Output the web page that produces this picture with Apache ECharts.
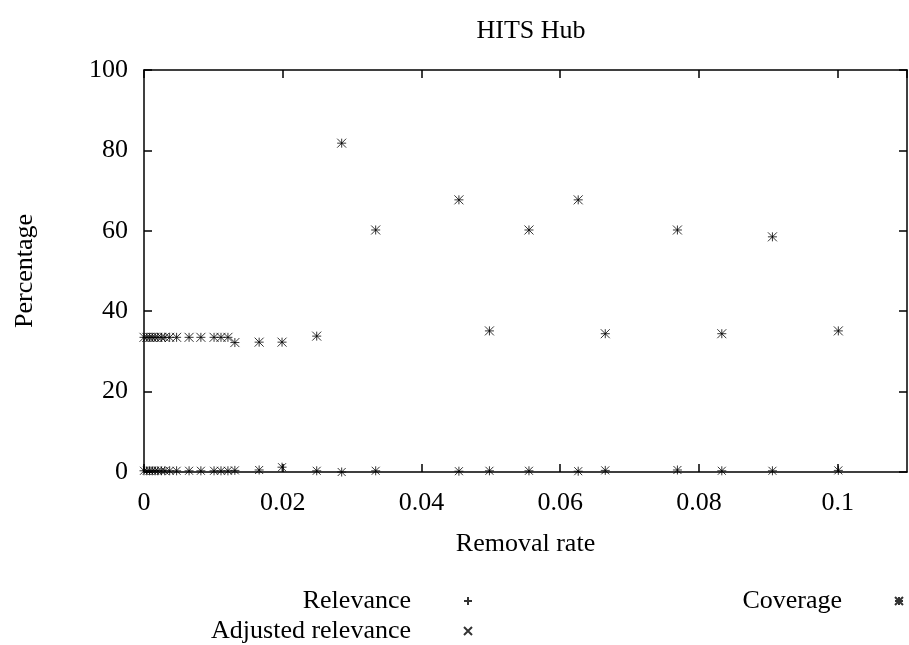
<!DOCTYPE html>
<html>
<head>
<meta charset="utf-8">
<script src="https://cdn.jsdelivr.net/npm/echarts@6/dist/echarts.min.js"></script>
<style>
  html, body { margin: 0; padding: 0; background: #fff; }
  #main { width: 909px; height: 645px; }
</style>
</head>
<body>
<div id="main"></div>
<script>
// removal rate (x) for every measurement
var removalRate = [0, 0.0004, 0.0008, 0.0012, 0.0016, 0.002, 0.0025, 0.003, 0.0037, 0.0047,
    0.0065, 0.0082, 0.0101, 0.0111, 0.0121, 0.0131, 0.0166, 0.0199, 0.0249, 0.0285,
    0.0334, 0.0454, 0.0498, 0.0555, 0.0626, 0.0665, 0.0769, 0.0833, 0.0906, 0.1001];
var relevance = [0.3, 0.3, 0.3, 0.3, 0.3, 0.3, 0.3, 0.3, 0.3, 0.3,
    0.3, 0.3, 0.3, 0.3, 0.3, 0.4, 0.5, 1.2, 0.3, 0,
    0.3, 0.2, 0.3, 0.3, 0.2, 0.4, 0.5, 0.3, 0.3, 0.4];
var adjRelevance = [0.3, 0.3, 0.3, 0.3, 0.3, 0.3, 0.3, 0.3, 0.3, 0.3,
    0.3, 0.3, 0.3, 0.3, 0.3, 0.4, 0.5, 1.2, 0.3, 0,
    0.3, 0.2, 0.3, 0.3, 0.2, 0.4, 0.5, 0.3, 0.3, 0.4];
var coverage = [33.5, 33.5, 33.5, 33.5, 33.5, 33.5, 33.5, 33.5, 33.5, 33.5,
    33.5, 33.5, 33.5, 33.5, 33.5, 32.2, 32.3, 32.3, 33.8, 81.8,
    60.2, 67.7, 35.1, 60.2, 67.7, 34.4, 60.2, 34.4, 58.5, 35.1];
var yTicks = [0, 20, 40, 60, 80, 100];

function pairs(ys) {
    let out = [];
    for (let i = 0; i < removalRate.length; i++) {
        out.push([removalRate[i], ys[i]]);
    }
    return out;
}

var FONT = 'Liberation Serif';
var plus = 'path://M0,5L10,5M5,0L5,10';
var cross = 'path://M0,0L10,10M0,10L10,0';
var star = 'path://M0,5L10,5M5,0L5,10M0,0L10,10M0,10L10,0';

var markStyle = {color: 'rgba(0,0,0,0)', borderColor: '#000', borderWidth: 1};
var axisLine = {onZero: false, lineStyle: {color: '#000', width: 1.5}};
var tick = {inside: true, length: 8, lineStyle: {color: '#000', width: 1.5}};

function legendAt(name, right, top) {
    return {
        data: [name],
        right: right,
        top: top,
        padding: 0,
        align: 'right',
        orient: 'vertical',
        itemWidth: 8,
        itemHeight: 8,
        selectedMode: false,
        textStyle: {fontFamily: FONT, fontSize: 26, color: '#000', padding: [0, 48, 0, 0]}
    };
}

var chart = echarts.init(document.getElementById('main'));
chart.setOption({
    animation: false,
    title: {
        text: 'HITS Hub',
        left: 526,
        textAlign: 'center',
        top: 13,
        textStyle: {fontFamily: FONT, fontSize: 26, fontWeight: 'normal', color: '#000'}
    },
    legend: [
        legendAt('Relevance', 436, 588),
        legendAt('Adjusted relevance', 436, 618),
        legendAt('Coverage', 5, 588)
    ],
    grid: {left: 144, right: 2, top: 70, bottom: 173},
    xAxis: [
        {
            type: 'value', min: 0, max: 0.11, interval: 0.02,
            name: 'Removal rate', nameLocation: 'middle', nameGap: 59, nameMoveOverlap: false,
            nameTextStyle: {fontFamily: FONT, fontSize: 26, color: '#000'},
            axisLine: axisLine, axisTick: tick, splitLine: {show: false},
            axisLabel: {
                fontFamily: FONT, fontSize: 26, color: '#000', margin: 18, showMaxLabel: false,
                formatter: function (v) { return v > 0.105 ? '' : String(+v.toFixed(2)); }
            }
        },
        {
            type: 'value', min: 0, max: 0.11, interval: 0.02, position: 'top',
            axisLine: axisLine, axisTick: tick, splitLine: {show: false},
            axisLabel: {show: false}
        }
    ],
    yAxis: [
        {
            type: 'value', min: yTicks[0], max: yTicks[yTicks.length - 1], interval: 20,
            name: 'Percentage', nameLocation: 'middle', nameGap: 106, nameMoveOverlap: false,
            nameTextStyle: {fontFamily: FONT, fontSize: 26, color: '#000'},
            axisLine: axisLine, axisTick: tick, splitLine: {show: false},
            axisLabel: {fontFamily: FONT, fontSize: 26, color: '#000', margin: 16}
        },
        {
            type: 'value', min: 0, max: 100, interval: 20, position: 'right',
            axisLine: axisLine, axisTick: tick, splitLine: {show: false},
            axisLabel: {show: false}
        }
    ],
    series: [
        {
            name: 'Relevance', type: 'scatter', symbol: plus, symbolSize: 9,
            itemStyle: markStyle, data: pairs(relevance)
        },
        {
            name: 'Adjusted relevance', type: 'scatter', symbol: cross, symbolSize: 8,
            itemStyle: markStyle, data: pairs(adjRelevance)
        },
        {
            name: 'Coverage', type: 'scatter', symbol: star, symbolSize: 9,
            itemStyle: markStyle, data: pairs(coverage)
        }
    ]
});
</script>
</body>
</html>
